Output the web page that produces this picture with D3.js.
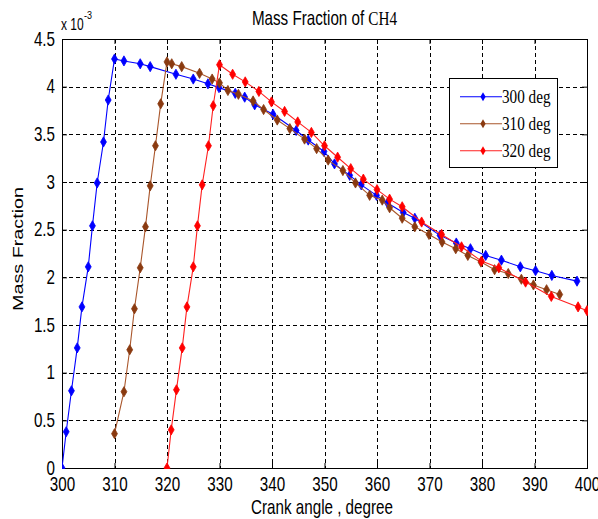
<!DOCTYPE html>
<html>
<head>
<meta charset="utf-8">
<script src="https://cdn.jsdelivr.net/npm/d3@7"></script>
<style>
  body { margin: 0; background: #fff; }
  svg { display: block; }
  text { font-family: "Liberation Sans", Arial, sans-serif; fill: #000; }
</style>
</head>
<body>
<svg id="chart" width="598" height="519"></svg>
<script>
// values are in units of 1e-3 (axis multiplier shown top-left)
const angle300 = [300, 300.8, 301.8, 302.9, 303.8, 305, 305.8, 306.7, 307.9, 308.8, 310,
  311.8, 314.9, 316.8, 321.7, 325, 327.8, 329.9, 333, 334.8, 336.7, 340.2, 344.6, 346.9,
  349.9, 351.9, 354.8, 357, 359.9, 362, 365, 367.2, 372, 375.1, 377.8, 380.7, 383.7,
  387.3, 390.2, 393.3, 398.1];
const mass300 = [0, 0.38, 0.81, 1.26, 1.69, 2.11, 2.54, 2.99, 3.42, 3.86, 4.29,
  4.27, 4.24, 4.21, 4.13, 4.08, 4.03, 3.99, 3.93, 3.89, 3.81, 3.71, 3.54, 3.44,
  3.32, 3.19, 3.07, 2.97, 2.86, 2.78, 2.68, 2.62, 2.44, 2.36, 2.30, 2.23, 2.18,
  2.11, 2.07, 2.02, 1.96];

const angle310 = [310, 311.8, 312.9, 313.8, 314.9, 315.9, 316.8, 317.8, 318.8, 320,
  320.9, 322.8, 326.2, 328.6, 330, 331.6, 333.6, 336.4, 338.4, 341, 343.4, 346.2,
  348.5, 350.7, 353.5, 355.9, 358.6, 361, 362.4, 364.8, 367.2, 369.9, 372.4, 375,
  377.3, 379.8, 382.4, 385, 387.5, 389.8, 392.3, 394.8];
const mass310 = [0.36, 0.80, 1.24, 1.67, 2.10, 2.53, 2.96, 3.38, 3.82, 4.26,
  4.24, 4.21, 4.14, 4.08, 4.04, 3.96, 3.92, 3.85, 3.76, 3.65, 3.56, 3.45,
  3.35, 3.23, 3.12, 2.99, 2.86, 2.81, 2.73, 2.62, 2.53, 2.45, 2.37, 2.30,
  2.23, 2.16, 2.08, 2.04, 1.98, 1.92, 1.87, 1.82];

const angle320 = [320, 320.8, 321.8, 322.9, 323.8, 325, 325.8, 326.7, 327.9, 328.8, 330,
  332.5, 334.9, 337.5, 339.9, 342.4, 344.9, 347.5, 350, 352.5, 355, 357.4, 360,
  362.4, 364.8, 368.5, 372.3, 376.1, 379.9, 383.2, 388.3, 393.2, 398.3, 400];
const mass320 = [0, 0.40, 0.82, 1.26, 1.69, 2.11, 2.54, 2.97, 3.38, 3.80, 4.23,
  4.13, 4.05, 3.95, 3.84, 3.74, 3.63, 3.52, 3.38, 3.26, 3.14, 3.03, 2.92,
  2.82, 2.74, 2.58, 2.45, 2.32, 2.17, 2.10, 1.95, 1.80, 1.69, 1.65];

const seriesNames = ['300 deg', '310 deg', '320 deg'];
const xTicks = d3.range(300, 401, 10);
const yTicks = [0, 0.5, 1, 1.5, 2, 2.5, 3, 3.5, 4, 4.5];

const series = [
  { name: seriesNames[0], xs: angle300, ys: mass300, line: '#0000ff', mark: '#0000ff' },
  { name: seriesNames[1], xs: angle310, ys: mass310, line: '#a9562b', mark: '#8a3a10' },
  { name: seriesNames[2], xs: angle320, ys: mass320, line: '#ff2020', mark: '#ff0000' },
];

const svg = d3.select('#chart'),
      margin = { top: 39, right: 11, bottom: 51, left: 62 },
      width = +svg.attr('width') - margin.left - margin.right,
      height = +svg.attr('height') - margin.top - margin.bottom,
      stretch = 1.3,
      fs = 15.2;

const g = svg.append('g').attr('transform', `translate(${margin.left},${margin.top})`);

const x = d3.scaleLinear().domain([300, 400]).range([0, width]);
const y = d3.scaleLinear().domain([0, 4.5]).range([height, 0]);

// dashed grid
g.append('g')
  .selectAll('line')
  .data(xTicks.slice(1, -1))
  .enter().append('line')
  .attr('x1', (d) => Math.round(x(d)) + 0.5)
  .attr('x2', (d) => Math.round(x(d)) + 0.5)
  .attr('y1', 0)
  .attr('y2', height)
  .attr('stroke', '#000')
  .attr('stroke-dasharray', '4,3');

g.append('g')
  .selectAll('line')
  .data(yTicks.slice(1, -1))
  .enter().append('line')
  .attr('y1', (d) => Math.round(y(d)) + 0.5)
  .attr('y2', (d) => Math.round(y(d)) + 0.5)
  .attr('x1', 0)
  .attr('x2', width)
  .attr('stroke', '#000')
  .attr('stroke-dasharray', '4,3');

// axes, ticks pointing inward
const xb = g.append('g')
  .attr('transform', `translate(0,${height})`)
  .call(d3.axisBottom(x).tickValues(xTicks).tickSize(-5).tickSizeOuter(0));
const yl = g.append('g')
  .call(d3.axisLeft(y).tickValues(yTicks).tickSize(-5).tickSizeOuter(0).tickFormat(d3.format('')));
g.append('g')
  .call(d3.axisTop(x).tickValues(xTicks).tickSize(-5).tickSizeOuter(0).tickFormat(''));
g.append('g')
  .attr('transform', `translate(${width},0)`)
  .call(d3.axisRight(y).tickValues(yTicks).tickSize(-5).tickSizeOuter(0).tickFormat(''));

g.selectAll('.domain').remove();
g.selectAll('.tick line').attr('stroke', '#000');

xb.selectAll('text')
  .attr('y', 23.5 / stretch)
  .attr('dy', 0)
  .attr('transform', `scale(1,${stretch})`)
  .style('font-size', fs + 'px')
  .style('font-family', '"Liberation Sans", Arial, sans-serif');

yl.selectAll('text')
  .attr('x', -7)
  .attr('y', 6 / stretch)
  .attr('dy', 0)
  .attr('transform', `scale(1,${stretch})`)
  .style('font-size', fs + 'px')
  .style('font-family', '"Liberation Sans", Arial, sans-serif');

// plot box
g.append('rect')
  .attr('x', 0.5)
  .attr('y', 0.5)
  .attr('width', width)
  .attr('height', height)
  .attr('fill', 'none')
  .attr('stroke', '#000');

g.append('clipPath')
  .attr('id', 'clip')
  .append('rect')
  .attr('width', width + 1)
  .attr('height', height + 1);

const line = d3.line()
  .x((d) => x(d[0]))
  .y((d) => y(d[1]));

const marker = d3.symbol().type(d3.symbolDiamond).size(30);

const plot = g.append('g').attr('clip-path', 'url(#clip)');

series.forEach((s) => {
  const pts = s.xs.map((v, i) => [v, s.ys[i]]);
  plot.append('path')
    .datum(pts)
    .attr('d', line)
    .attr('fill', 'none')
    .attr('stroke', s.line)
    .attr('stroke-width', 1.1);
  plot.append('g')
    .selectAll('path')
    .data(pts)
    .enter().append('path')
    .attr('d', marker)
    .attr('transform', (d) => `translate(${x(d[0])},${y(d[1])})`)
    .attr('fill', s.mark)
    .attr('stroke', s.mark)
    .attr('stroke-width', 0.8);
});

// texts, stretched vertically like the source figure
function label(px, py, anchor, size) {
  return svg.append('text')
    .attr('transform', `translate(${px},${py}) scale(1,${stretch})`)
    .attr('text-anchor', anchor)
    .style('font-size', (size || fs) + 'px');
}

const title = label(margin.left + width / 2, 25, 'middle');
title.append('tspan').text('Mass Fraction of ');
title.append('tspan').style('font-family', '"Liberation Serif", "Times New Roman", serif').text('CH4');

label(322, 514, 'middle').text('Crank angle , degree');

svg.append('text')
  .attr('transform', `translate(23,249) scale(1,${stretch}) rotate(-90)`)
  .attr('text-anchor', 'middle')
  .style('font-size', fs + 'px')
  .text('Mass Fraction');

label(61, 30, 'start', 12).text('x 10');
label(84, 19, 'start', 9).text('-3');

// legend
const legend = svg.append('g').attr('transform', 'translate(449,78)');
legend.append('rect')
  .attr('x', 0.5)
  .attr('y', 0.5)
  .attr('width', 108)
  .attr('height', 89)
  .attr('fill', '#fff')
  .attr('stroke', '#000');

const rows = legend.selectAll('g.row')
  .data(series)
  .enter().append('g')
  .attr('class', 'row')
  .attr('transform', (d, i) => `translate(0,${18.7 + i * 27})`);

rows.append('line')
  .attr('x1', 11)
  .attr('x2', 53)
  .attr('stroke', (d) => d.line)
  .attr('stroke-width', 1.1);
rows.append('path')
  .attr('d', d3.symbol().type(d3.symbolDiamond).size(24))
  .attr('transform', 'translate(34,0)')
  .attr('fill', (d) => d.mark);
rows.append('text')
  .attr('transform', `translate(53,6.5) scale(1,${stretch})`)
  .style('font-family', '"Liberation Serif", "Times New Roman", serif')
  .style('font-size', fs + 'px')
  .text((d) => d.name);
</script>
</body>
</html>
